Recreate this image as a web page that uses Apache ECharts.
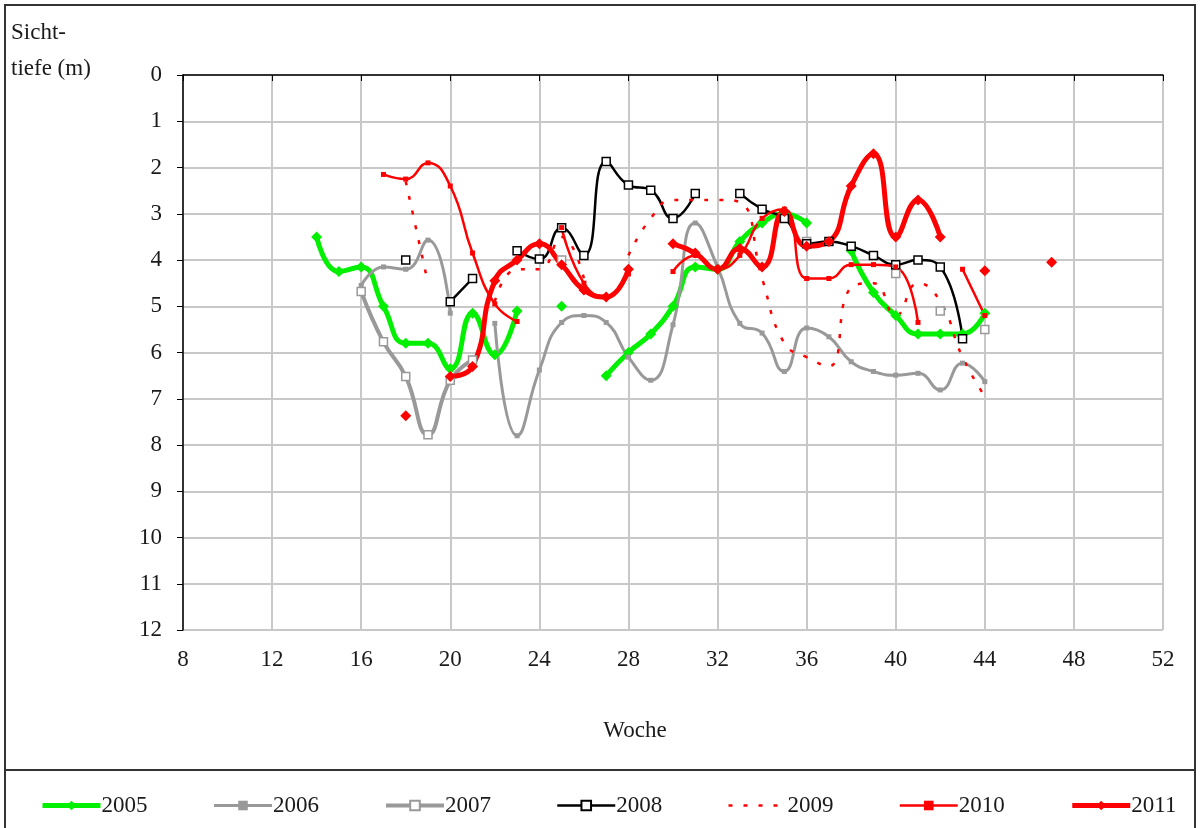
<!DOCTYPE html>
<html>
<head>
<meta charset="utf-8">
<script src="https://cdn.jsdelivr.net/npm/echarts@6/dist/echarts.min.js"></script>
<style>
  html, body { margin: 0; padding: 0; background: #fff; }
  #chart { width: 1200px; height: 828px; }
</style>
</head>
<body>
<div id="chart"></div>
<script>
// Sichttiefe per Kalenderwoche, one array per year (null = no measurement)
const weeks = [14, 15, 16, 17, 18, 19, 20, 21, 22, 23, 24, 25, 26, 27, 28, 29, 30,
  31, 32, 33, 34, 35, 36, 37, 38, 39, 40, 41, 42, 43, 44, 45, 46, 47];

const y2005 = [3.5, 4.25, 4.15, 5.0, 5.8, 5.8, 6.35, 5.15, 6.05, 5.1, null, 5.0, null, 6.5, 6.0, 5.6, 5.0,
  4.15, 4.2, 3.6, 3.2, 3.0, 3.2, null, 3.8, 4.7, 5.2, 5.6, 5.6, 5.6, 5.15, null, null, null];
const y2006 = [null, null, 4.55, 4.15, 4.2, 3.57, 5.15, null, 5.37, 7.8, 6.38, 5.35, 5.2, 5.35, 6.1, 6.6, 5.4,
  3.2, 4.15, 5.37, 5.58, 6.41, 5.47, 5.66, 6.2, 6.41, 6.49, 6.45, 6.81, 6.23, 6.63, null, null, null];
const y2007 = [null, null, 4.68, 5.77, 6.52, 7.78, 6.6, 6.16, null, null, null, 4.0, null, null, null, null, null,
  null, null, null, null, null, 3.6, null, null, null, 4.29, null, 5.1, null, 5.5, null, null, null];
const y2008 = [null, null, null, null, 4.0, null, 4.9, 4.4, null, 3.8, 3.98, 3.3, 3.9, 1.87, 2.38, 2.49, 3.1,
  2.56, null, 2.56, 2.9, 3.1, 3.65, 3.6, 3.7, 3.9, 4.1, 4.0, 4.15, 5.7, null, null, null, null];
const y2009 = [null, null, null, null, 2.3, 4.5, null, null, 4.9, 4.2, 4.2, 3.5, 4.4, null, 3.9, 3.1, 2.7,
  2.7, 2.7, 2.75, 4.4, 5.8, 6.1, 6.3, 4.6, 4.5, 5.2, 4.5, 4.9, 6.1, 6.95, null, null, null];
const y2010 = [null, null, null, 2.15, 2.25, 1.9, 2.4, 3.85, 4.95, 5.33, null, 3.3, 4.5, 4.8, 4.3, null, 4.25,
  3.9, 4.2, 3.9, 3.1, 2.9, 4.4, 4.4, 4.1, 4.1, 4.15, 5.35, null, 4.2, 5.2, null, null, null];
const y2011 = [null, null, null, null, 7.37, null, 6.52, 6.3, 4.45, 4.0, 3.65, 4.1, 4.65, 4.8, 4.2, null, 3.65,
  3.85, 4.2, 3.75, 4.15, 2.95, 3.7, 3.6, 2.4, 1.7, 3.5, 2.7, 3.5, null, 4.23, null, null, 4.05];

const FONT = '"Liberation Serif", "Times New Roman", serif';
const TEXT = '#1a1a1a';

const pairs = vals => weeks.map((w, i) => [w, vals[i] == null ? '-' : vals[i]]);

const chart = echarts.init(document.getElementById('chart'));

const seriesDefs = [
  { name: '2005', data: y2005, color: '#00f000', width: 5, symbol: 'diamond', size: 11, fill: '#00f000' },
  { name: '2006', data: y2006, color: '#999999', width: 3, symbol: 'rect', size: 5, fill: '#999999' },
  { name: '2007', data: y2007, color: '#999999', width: 4, symbol: 'rect', size: 8, fill: '#ffffff' },
  { name: '2008', data: y2008, color: '#000000', width: 2.5, symbol: 'rect', size: 8, fill: '#ffffff' },
  { name: '2009', data: y2009, color: '#ff0000', width: 2.5, symbol: 'none', size: 0, fill: '#ff0000', dash: [4, 11] },
  { name: '2010', data: y2010, color: '#ff0000', width: 2.5, symbol: 'rect', size: 5, fill: '#ff0000' },
  { name: '2011', data: y2011, color: '#ff0000', width: 5, symbol: 'diamond', size: 11, fill: '#ff0000' }
];

const series = seriesDefs.map(s => ({
  name: s.name,
  type: 'line',
  data: pairs(s.data),
  smooth: 0.5,
  connectNulls: false,
  symbol: s.symbol,
  symbolSize: s.size,
  showSymbol: s.symbol !== 'none',
  color: s.color,
  lineStyle: { color: s.color, width: s.width, type: s.dash || 'solid' },
  itemStyle: { color: s.fill, borderColor: s.color, borderWidth: s.fill === '#ffffff' ? 1.5 : 0 },
  emphasis: { disabled: true },
  animation: false
}));

const option = {
  backgroundColor: '#ffffff',
  animation: false,
  textStyle: { fontFamily: FONT, color: TEXT },
  title: {
    text: 'Sicht-\ntiefe (m)',
    left: 6,
    top: 10,
    textStyle: { fontFamily: FONT, fontSize: 23, fontWeight: 'normal', color: TEXT, lineHeight: 36 }
  },
  grid: { left: 183, right: 37, top: 75, bottom: 198 },
  xAxis: {
    type: 'value',
    min: 8,
    max: 52,
    interval: 4,
    axisLine: { lineStyle: { color: '#000', width: 1.5 } },
    axisTick: { show: true, length: 6, lineStyle: { color: '#000' } },
    axisLabel: { fontFamily: FONT, fontSize: 23, color: TEXT, margin: 18 },
    splitLine: { show: true, lineStyle: { color: '#c8c8c8', width: 2 } }
  },
  yAxis: {
    type: 'value',
    inverse: true,
    min: 0,
    max: 12,
    interval: 1,
    axisLine: { show: true, lineStyle: { color: '#000', width: 1.5 } },
    axisTick: { show: true, length: 6, lineStyle: { color: '#000' } },
    axisLabel: { fontFamily: FONT, fontSize: 23, color: TEXT, margin: 21 },
    splitLine: { show: true, lineStyle: { color: '#c8c8c8', width: 2 } }
  },
  legend: {
    left: 35,
    top: 789,
    itemWidth: 58,
    itemHeight: 12,
    itemGap: 65,
    textStyle: { fontFamily: FONT, fontSize: 23, color: TEXT, padding: [0, 0, 0, -4] },
    data: seriesDefs.map(s => {
      const item = { name: s.name, lineStyle: { width: s.width } };
      if (s.symbol === 'none') item.itemStyle = { opacity: 0 };
      return item;
    })
  },
  graphic: [
    { type: 'rect', shape: { x: 5, y: 5, width: 1190, height: 765 }, style: { fill: null, stroke: '#333', lineWidth: 2 }, silent: true },
    { type: 'rect', shape: { x: 5, y: 770, width: 1190, height: 70 }, style: { fill: null, stroke: '#333', lineWidth: 2 }, silent: true },
    {
      type: 'text', x: 635, y: 731, silent: true,
      style: { text: 'Woche', fontFamily: FONT, fontSize: 23, fill: TEXT, align: 'center', verticalAlign: 'middle' }
    }
  ],
  series: series
};

chart.setOption(option);
</script>
</body>
</html>
